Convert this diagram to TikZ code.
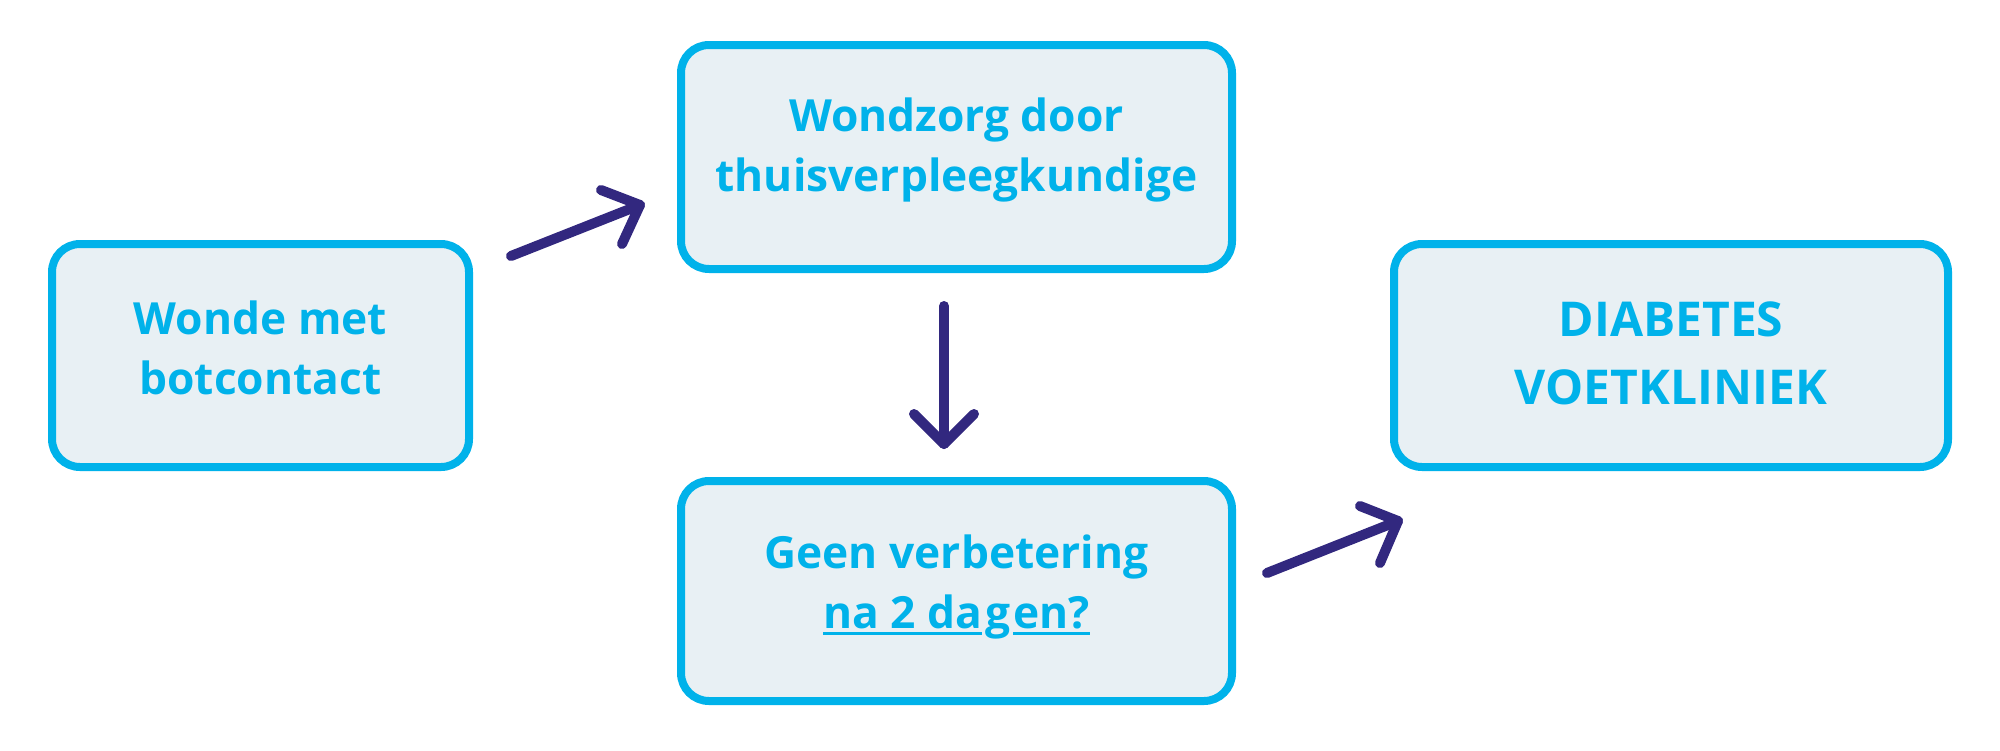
\documentclass[tikz,border=0pt]{standalone}
\usepackage{fontspec}
\setmainfont{Open Sans}
\definecolor{boxline}{HTML}{00B2EA}
\definecolor{boxfill}{HTML}{E8F0F4}
\definecolor{arrowc}{HTML}{32287F}
\newcommand\myul[1]{\setbox0\hbox{#1}\rlap{\rule[-6.5pt]{\wd0}{3.2pt}}\box0}
\begin{document}
\begin{tikzpicture}[x=1pt,y=-1pt,
  flowbox/.style={draw=boxline,fill=boxfill,line width=8pt,rounded corners=28pt,
    rectangle,inner sep=0pt},
  boxtext/.style={align=center,text=boxline,inner sep=0pt,
    font=\fontsize{44.3}{60}\selectfont\bfseries},
  arr/.style={draw=arrowc,line width=10pt,line cap=round,line join=round}]
\useasboundingbox (0,0) rectangle (2000,750);
\node[flowbox,minimum width=417pt,minimum height=223pt] (b1) at (260.5,355.5) {};
\node[boxtext] (t1) at ([yshift=8pt]b1.center) {Wonde met\\botcontact};
\node[flowbox,minimum width=551pt,minimum height=224pt] (b2) at (956.5,157) {};
\node[boxtext] (t2) at ([yshift=7pt]b2.center) {Wondzorg door\\thuisverpleegkundige};
\node[flowbox,minimum width=551pt,minimum height=220pt] (b3) at (956.5,591) {};
\node[boxtext] (t3) at ([yshift=4pt]b3.center) {Geen verbetering\\\myul{na 2 da}\hspace{3pt}g\hspace{3pt}\myul{en?}};
\node[flowbox,minimum width=554pt,minimum height=223pt] (b4) at (1671,355.5) {};
\node[boxtext,font=\fontsize{48}{68}\selectfont\bfseries] (t4) at ([yshift=2pt]b4.center) {DIABETES\\VOETKLINIEK};
% arrow 1
\coordinate (a1t) at (511,256);
\coordinate (a1h) at (640,205);
\coordinate (a1l) at (601,190);
\coordinate (a1r) at (622,244);
\draw[arr] (a1t) -- (a1h);
\draw[arr] (a1l) -- (a1h) -- (a1r);
% arrow 2
\coordinate (a2t) at (944,306);
\coordinate (a2h) at (944,444);
\coordinate (a2l) at (914,414);
\coordinate (a2r) at (974,414);
\draw[arr] (a2t) -- (a2h);
\draw[arr] (a2l) -- (a2h) -- (a2r);
% arrow 3
\coordinate (a3t) at (1267,573);
\coordinate (a3h) at (1398,521);
\coordinate (a3l) at (1360,506);
\coordinate (a3r) at (1380,563);
\draw[arr] (a3t) -- (a3h);
\draw[arr] (a3l) -- (a3h) -- (a3r);
\end{tikzpicture}
\end{document}
